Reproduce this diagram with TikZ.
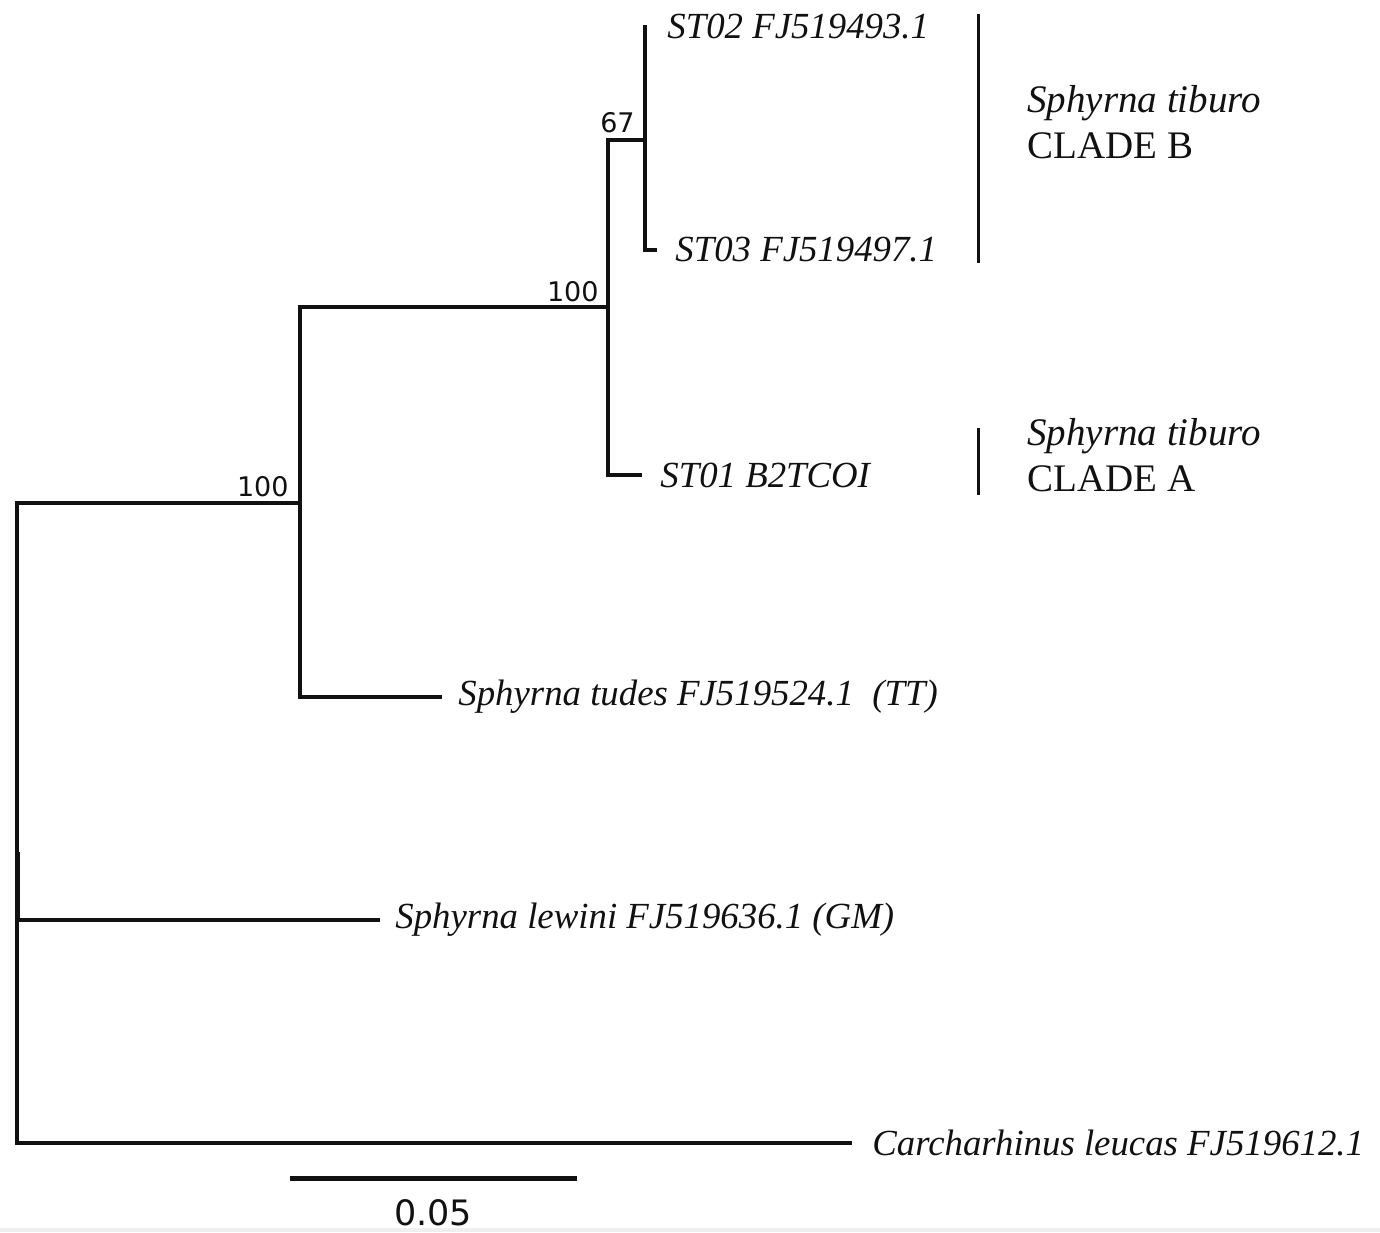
\documentclass[tikz,border=0pt]{standalone}
\usepackage{fontspec}
\setmainfont{Liberation Serif}
\newfontfamily\bootfont{DejaVu Sans}
\usepackage{xcolor}
\definecolor{trink}{HTML}{111111}
\definecolor{trband}{HTML}{EFEFEF}
\usepackage{tikz}
\usetikzlibrary{positioning}
\tikzset{
  trbranch/.style={draw=trink, line width=1.6pt, line cap=rect},
  trtaxon/.style ={inner sep=0pt, text=trink, font=\fontsize{18.4}{21}\selectfont\itshape},
  trboot/.style  ={inner sep=0pt, anchor=south east, text=trink, font=\fontsize{13.5}{16}\selectfont\bootfont},
  trbar/.style   ={draw=trink, line width=1.5pt},
  trclade/.style ={inner sep=0pt, anchor=base west, text=trink, font=\fontsize{19.5}{23}\selectfont},
  trscale/.style ={draw=trink, line width=2.5pt},
}
\begin{document}
\begin{tikzpicture}[x=0.5pt, y=-0.5pt]
  \useasboundingbox (0,0) rectangle (1380,1232);
  \fill[trband] (0,1228) rectangle (1380,1232);
  \coordinate (nR) at (17,920);
  \coordinate (nA) at (300,503);
  \coordinate (nB) at (608,307);
  \coordinate (nC) at (645,140);
  \coordinate (tST02) at (645,27);
  \coordinate (tST03) at (655,250);
  \coordinate (tST01) at (640,475);
  \coordinate (tTudes) at (440,697);
  \coordinate (tLewini) at (378,920);
  \coordinate (tCarch) at (850,1143);
  \node[trtaxon, right=11pt of tST02] (ST02) {ST02 FJ519493.1};
  \node[trtaxon, right=10pt of tST03] (ST03) {ST03 FJ519497.1};
  \node[trtaxon, right=10pt of tST01] (ST01) {ST01 B2TCOI};
  \node[trtaxon, right=9pt of tTudes] (tudes) {Sphyrna tudes FJ519524.1\ \ (TT)};
  \node[trtaxon, right=8.5pt of tLewini] (lewini) {Sphyrna lewini FJ519636.1 (GM)};
  \node[trtaxon, right=11pt of tCarch] (carch) {Carcharhinus leucas FJ519612.1};
  \draw[trbranch] (nR) |- (nA);
  \draw[trbranch] (nR) -- (tLewini);
  \draw[trbranch] (nR) |- (tCarch);
  \draw[trbranch, line width=2.5pt, line cap=butt] (17,852) -- (nR);
  \draw[trbranch] (nA) |- (nB);
  \draw[trbranch] (nA) |- (tTudes);
  \draw[trbranch] (nB) |- (nC);
  \draw[trbranch] (nB) |- (tST01);
  \draw[trbranch] (nC) |- (tST02);
  \draw[trbranch] (nC) |- (tST03);
  \node[trboot] (bA) at (289,497) {100};
  \node[trboot] (bB) at (599,302) {100};
  \node[trboot] (bC) at (635,133) {67};
  \coordinate (cBtop) at (978,14);
  \coordinate (cBbot) at (978,263);
  \coordinate (cAtop) at (978,428);
  \coordinate (cAbot) at (978,495);
  \draw[trbar] (cBtop) -- (cBbot);
  \draw[trbar] (cAtop) -- (cAbot);
  \node[trclade] (cBsp) at (1027,112) {\itshape Sphyrna tiburo};
  \node[trclade] (cBname) at (1027,158) {CLADE B};
  \node[trclade] (cAsp) at (1027,445) {\itshape Sphyrna tiburo};
  \node[trclade] (cAname) at (1027,491) {CLADE A};
  \coordinate (sL) at (290,1178);
  \coordinate (sR) at (577,1178);
  \draw[trscale] (sL) -- (sR);
  \node[inner sep=0pt, anchor=north, text=trink, font=\fontsize{17.5}{20}\selectfont\bootfont]
       (scalelbl) at (433,1199) {0.05};
\end{tikzpicture}
\end{document}
